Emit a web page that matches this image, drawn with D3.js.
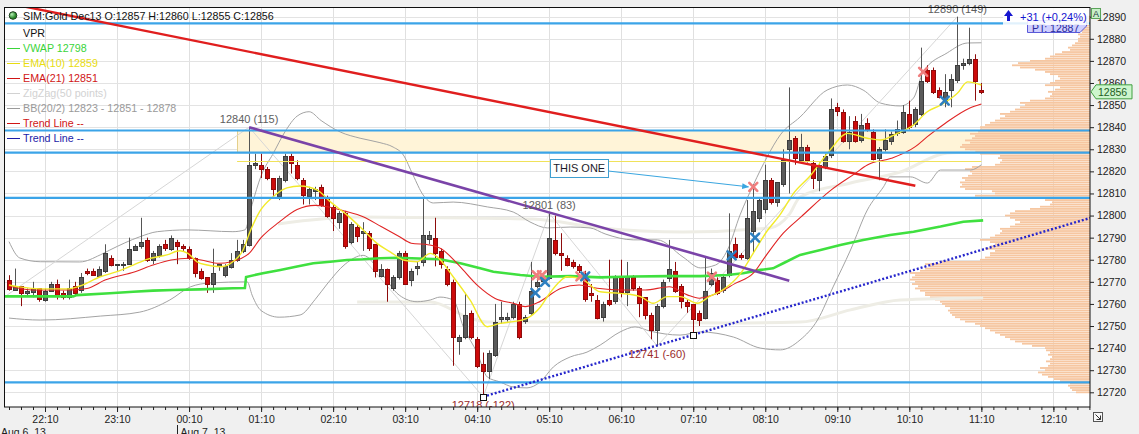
<!DOCTYPE html>
<html>
<head>
<meta charset="utf-8">
<script src="https://cdn.jsdelivr.net/npm/d3@7"></script>
<style>
body { margin: 0; background: #f0f0f0; }
svg { font-family: "Liberation Sans", Arial, sans-serif; display: block; }
</style>
</head>
<body>
<svg id="chart" width="1139" height="434"></svg>
<script>
// ---- DATA (5 minute bars, first bar 21:40) ----
var barStart = new Date(2013, 7, 6, 21, 40);
var barMinutes = 5;

var opens = [12771,12766,12768,12765,12765,12767,12762,12766,12769,12765,
  12763,12768,12766,12775,12775,12773,12775,12781,12778,12778,
  12778,12784,12786,12789,12780,12782,12787,12785,12788,12786,
  12785,12781,12775,12772,12769,12777,12773,12777,12780,12784,
  12787,12823,12823,12821,12817,12809,12816,12827,12823,12816,
  12809,12811,12813,12808,12804,12797,12801,12788,12795,12792,
  12792,12787,12773,12776,12767,12772,12783,12771,12776,12779,
  12789,12790,12784,12776,12770,12743,12745,12756,12744,12733,
  12730,12737,12753,12753,12754,12760,12752,12756,12768,12770,
  12772,12789,12783,12781,12779,12777,12773,12765,12762,12754,
  12762,12761,12772,12765,12772,12767,12763,12755,12748,12759,
  12772,12775,12768,12761,12760,12756,12754,12769,12771,12766,
  12773,12787,12782,12781,12793,12799,12803,12816,12806,12814,
  12830,12835,12825,12831,12824,12816,12822,12827,12849,12847,
  12834,12843,12834,12842,12838,12826,12830,12834,12837,12838,
  12846,12841,12846,12866,12866,12857,12852,12857,12861,12868,
  12869,12871,12857];
var highs = [12773,12776,12768,12767,12770,12767,12767,12770,12771,12766,
  12771,12770,12774,12776,12776,12777,12787,12782,12778,12779,
  12790,12787,12799,12790,12784,12787,12789,12791,12789,12787,
  12786,12781,12776,12772,12785,12778,12778,12783,12789,12789,
  12840,12828,12828,12822,12817,12818,12828,12828,12825,12817,
  12813,12813,12814,12809,12805,12802,12802,12797,12796,12797,
  12793,12787,12778,12776,12773,12784,12784,12776,12779,12808,
  12793,12799,12785,12777,12771,12746,12765,12757,12745,12738,
  12739,12760,12761,12756,12761,12761,12755,12779,12772,12774,
  12801,12800,12792,12782,12780,12778,12775,12769,12764,12761,
  12780,12773,12780,12779,12773,12768,12763,12756,12760,12771,
  12789,12779,12769,12762,12760,12757,12781,12776,12772,12773,
  12801,12790,12783,12807,12814,12808,12823,12817,12815,12830,
  12858,12836,12837,12832,12825,12824,12828,12853,12851,12848,
  12845,12845,12846,12844,12839,12831,12839,12838,12843,12850,
  12852,12849,12876,12868,12867,12858,12864,12864,12890,12871,
  12885,12873,12860];
var lows = [12766,12766,12759,12764,12763,12761,12761,12766,12762,12762,
  12762,12764,12765,12773,12773,12773,12774,12777,12775,12775,
  12778,12784,12785,12779,12778,12781,12784,12784,12778,12784,
  12780,12772,12771,12765,12765,12775,12772,12776,12779,12783,
  12786,12821,12817,12816,12808,12807,12815,12819,12816,12805,
  12805,12807,12804,12799,12793,12794,12785,12787,12788,12784,
  12784,12772,12772,12761,12766,12771,12769,12768,12773,12777,
  12787,12777,12776,12768,12732,12737,12744,12744,12731,12718,
  12726,12736,12751,12752,12753,12744,12751,12755,12767,12769,
  12771,12782,12775,12777,12776,12774,12761,12761,12753,12752,
  12759,12760,12763,12759,12766,12754,12753,12744,12741,12758,
  12770,12765,12758,12756,12747,12750,12753,12768,12764,12765,
  12772,12780,12780,12780,12783,12797,12801,12805,12804,12813,
  12810,12823,12824,12824,12812,12811,12821,12826,12845,12833,
  12830,12833,12833,12838,12825,12816,12829,12832,12836,12837,
  12839,12840,12845,12860,12855,12853,12849,12849,12860,12866,
  12868,12852,12855];
var closes = [12767,12768,12765,12766,12767,12762,12766,12769,12764,12763,
  12767,12765,12772,12774,12773,12776,12783,12778,12778,12778,
  12785,12786,12788,12780,12783,12786,12785,12790,12786,12785,
  12781,12774,12772,12769,12774,12778,12777,12780,12784,12787,
  12823,12824,12821,12817,12812,12817,12827,12824,12817,12809,
  12812,12812,12805,12800,12799,12801,12786,12796,12791,12793,
  12785,12775,12776,12769,12772,12783,12769,12775,12777,12791,
  12791,12783,12778,12769,12745,12745,12755,12745,12732,12730,
  12738,12752,12754,12754,12760,12745,12754,12766,12770,12772,
  12790,12783,12782,12778,12777,12775,12762,12764,12754,12760,
  12760,12772,12765,12772,12767,12760,12755,12748,12759,12770,
  12776,12766,12761,12759,12753,12753,12766,12774,12765,12772,
  12784,12781,12781,12799,12802,12807,12816,12806,12815,12825,
  12834,12826,12831,12825,12817,12823,12827,12848,12847,12834,
  12838,12834,12841,12839,12826,12830,12834,12837,12839,12847,
  12840,12848,12861,12861,12856,12854,12856,12862,12868,12869,
  12871,12861,12856];

var priceTicks = d3.range(12720, 12891, 10);

// volume profile, one value per price point from vprLow upward
var vprLow = 12720;
var vprVolume = [14,18,20,22,20, 30,36,42,48,52, 45,50,42,40,44, 40,38,42,40,44,
  45,58,68,75,80, 85,90,95,100,105, 110,115,125,130,135, 138,140,142,140,145,
  148,150,155,160,165, 165,170,175,172,178, 175,180,178,175,180, 170,165,160,165,150,
  110,105,100,100,95, 105,100,95,100,110, 100,95,90,88,90, 80,75,70,75,80,
  85,80,75,60,50, 40,38,45,100,115, 95,98,125,130,128, 130,125,128,122,118,
  120,125,118,95,90, 88,92,90,110,120, 125,130,128,120,125, 118,115,120,112,110,
  110,105,100,95,90, 85,90,80,75,70, 65,70,60,45,40, 38,42,35,30,45,
  40,35,30,32,40, 45,55,70,78,72, 60,45,40,35,28, 20,22,18,15,12,
  12,10,12,8,10, 8,6,8,5,4, 3];

// indicator readings: [bar, price]
var ema10 = [[0,12768.6],[1.8,12767.7],[5.2,12766.8],[9.7,12766.8],[11.8,12768.1],[15.2,12772.3],[18,12774.6],
  [20.7,12777.6],[23,12780.2],[26.3,12782.2],[28.5,12784.1],[29.8,12782.9],[31.3,12779.1],[33,12777.6],
  [35.2,12776.8],[37.3,12779.1],[39,12784.4],[40.2,12793],[41.8,12802],[44,12808.5],[46.3,12812.5],
  [48.5,12813.4],[51.3,12811.6],[53.5,12806.3],[56.3,12800.3],[59,12793.5],[61.3,12787.4],[63.5,12783.6],
  [65.7,12779.9],[68,12779.1],[70.2,12782.9],[71.3,12781.4],[74,12772.3],[76.8,12761.8],[79.7,12749.7],
  [81.8,12751.2],[84,12752.0],[86.3,12753.5],[88.5,12758.5],[90,12764.5],[91.5,12769.5],[93,12772.3],
  [95.7,12770.8],[98.5,12765.5],[101.8,12764.8],[105.2,12763.3],[107.3,12760.3],[109.7,12763.3],
  [111.8,12763.3],[114.7,12760.3],[116.8,12763.5],[119,12766.5],[121.8,12773.5],[124,12783],
  [126.3,12793],[128.5,12800.5],[130.7,12810],[133.5,12818],[136.8,12829.7],[139.7,12837.2],[143,12835.0],
  [145.2,12834.2],[148,12837.2],[150.7,12841.0],[153,12847.0],[155.2,12850.0],[158,12855.3],[159.7,12860.5],[162,12859.1]];
var ema21 = [[0,12768.1],[4,12766.3],[10,12766.3],[13,12767.0],[16,12770.8],[21,12774.6],[24,12777.6],[27,12779.9],
  [30,12780.7],[32,12779.9],[35,12778.4],[37,12779.1],[40,12782.9],[42,12790],[45,12797],[48,12802.7],
  [51,12804.6],[53,12804],[56,12802],[59,12799.5],[62,12795.0],[65,12790.5],[67,12787.5],[70,12786.7],
  [72,12785],[75,12777.3],[78,12768.5],[81,12762.5],[84,12760.3],[86,12758.8],[88,12760.5],[92,12767.1],
  [95,12768.6],[98,12767.1],[102,12766.3],[106,12766.3],[110,12767.8],[113,12764.1],[115,12762.6],
  [118,12764.8],[121,12769.3],[124,12773.9],[126,12781.4],[129,12792.0],[132,12799.5],[137,12811.6],
  [141,12819.1],[143,12822.9],[147,12825.9],[151,12831.2],[153,12835.7],[156,12841.8],[160,12848.6],[162,12850.5]];
var bbUpper = [[0,12788.2],[1.8,12780.8],[5.2,12779.1],[11.8,12779.0],[15.2,12782.2],[16.8,12784.4],[21.8,12790.4],
  [24.7,12792.7],[29.7,12793.5],[37.3,12792.7],[39.3,12793.5],[40.5,12805],[42,12818],[44,12828],[46,12838],
  [48,12845],[50,12847],[52,12843],[55.2,12837.8],[58.5,12835],[61.8,12833],[64,12831],[65.7,12827.4],
  [67.3,12818.4],[69,12809.3],[70.7,12805.7],[74,12806.1],[79.7,12803.9],[84,12801.6],[86.8,12797.1],
  [89.7,12794.4],[93.5,12794.8],[96.8,12794.4],[99.3,12791.7],[104,12789.0],[108,12789.0],[112.3,12781.2],
  [115.2,12776.3],[117.7,12777.6],[119.7,12784.4],[121.8,12800.3],[124,12813.8],[126.3,12826.5],
  [128.5,12836.5],[131.8,12844.6],[136.3,12856.8],[139.7,12859.1],[142.3,12856.8],[145.2,12850.9],
  [148.5,12849.6],[150.7,12853.2],[152.3,12865.0],[156.3,12873.6],[159.7,12878.1],[162,12878.2]];
var bbLower = [[0,12753.6],[5.2,12752.7],[15.2,12754.5],[21.8,12756.3],[26.8,12761.8],[30.2,12767.7],[33.5,12769.5],
  [39.7,12770],[40.5,12764],[42,12757],[45,12754],[48.5,12755],[51,12762],[53,12769],[56,12778],[59,12782],
  [62,12774],[65,12764],[68,12761],[70.2,12761.8],[71.8,12763.1],[74,12761.8],[75.7,12749.6],[78,12737.8],
  [79.7,12726.9],[81.8,12724.7],[84,12722.4],[86.3,12722.0],[88.5,12724.7],[90.7,12731.5],[93.5,12736.0],
  [96.3,12738.2],[98.5,12741.4],[101.8,12747.3],[104.3,12749.6],[106.8,12747.7],[111.8,12745.9],
  [115.2,12747.3],[120.7,12745.0],[125.2,12740.0],[128.5,12739.2],[131.8,12743.7],[134.7,12752.7],
  [137.3,12767.7],[140.2,12784.4],[143,12802.5],[145.7,12813],[146.8,12817.5],[150.2,12817.5],
  [153,12814.7],[155.2,12820.6],[160.2,12820.6],[162,12823.0]];
var vwap = [[-0.75,12763.4],[10.7,12763.4],[11.3,12764.0],[16.8,12764.8],[20.7,12765.5],[24,12766.0],[27.3,12766.3],
  [31.8,12766.6],[37.3,12767.1],[39.3,12767.2],[39.5,12772.2],[42.3,12773.9],[45.2,12775.4],[48,12776.9],
  [50.7,12778.4],[53.5,12779.1],[56.3,12779.9],[59,12780.2],[61.8,12780.7],[64.7,12780.9],[71.8,12780.2],
  [75.2,12778.4],[78.5,12776.1],[80.7,12774.6],[85.2,12773.1],[88.5,12772.3],[93.5,12772.6],[98.5,12772.0],
  [104,12772.4],[109.7,12772.6],[115.2,12772.6],[119.7,12773.1],[122.3,12773.9],[125.2,12775.4],
  [127.3,12776.1],[129,12778.4],[131.8,12782.2],[135.2,12784.4],[138.5,12786.7],[142.3,12788.9],
  [146.8,12791.2],[150.7,12792.7],[155.2,12795.0],[159,12797.2],[162.3,12797.8]];
var vwapUpperBand = [[44.8,12796.2],[58,12799.3],[76.8,12798.9],[87.3,12798.4],[98.5,12794.4],[112.3,12792.6],
  [126.8,12794.4],[130,12800.5],[131.8,12808.4],[140.2,12814.7],[148.5,12819.7],[156.3,12828.3],[161,12828.8]];
var vwapLowerBand = [[58,12760.9],[70.2,12760.9],[76.8,12753.6],[79.7,12751.8],[101.8,12751.8],[119.7,12751.4],
  [131.8,12751.8],[140.2,12757.3],[148.5,12761.8],[162.3,12762.7]];

var zigzag = [[-21,12725],[40,12840],[79,12718],[90,12801],[108,12741],[158,12890]];
var zigzagLabels = [
  {bar: 40, price: 12840, text: "12840 (115)", high: true},
  {bar: 90, price: 12801, text: "12801 (83)", high: true},
  {bar: 158, price: 12890, text: "12890 (149)", high: true},
  {bar: 79, price: 12718, text: "12718 (-122)", high: false},
  {bar: 108, price: 12741, text: "12741 (-60)", high: false}];

var levels = [12887, 12838.5, 12828.5, 12808, 12724.5];
var zone = {fromBar: 38, top: 12838.5, bottom: 12828.5};
var yellowRay = {fromBar: 38, toBar: 162, price: 12824.6};
var redTrend = [[0, 12896], [151, 12813.5]];
var purpleTrend = [[40, 12840], [130, 12770.5]];
var blueTrend = [[79, 12718], [114, 12746]];
var sellMarks = [[87.9,12773],[88.8,12773],[95.2,12772.5],[117.1,12772.3],[124,12813],[152.3,12865]];
var buyMarks = [[87.7,12765],[89.3,12770],[96,12772.5],[120.4,12782],[124.3,12790],[155.9,12852]];
var note = {text: "THIS ONE", bar: 95, price: 12821.5, tipBar: 123.2, tipPrice: 12813};

var legendRows = [
  {text: "VPR", color: "#111", line: false},
  {text: "VWAP  12798", color: "#3ad43a", line: true},
  {text: "EMA(10)  12859", color: "#e8dc10", line: true},
  {text: "EMA(21)  12851", color: "#d01515", line: true},
  {text: "ZigZag(50 points)", color: "#d2d2d2", line: true},
  {text: "BB(20/2) 12823 - 12851 - 12878", color: "#9a9a9a", line: true},
  {text: "Trend Line  --", color: "#d01515", line: true},
  {text: "Trend Line  --", color: "#1c1ca8", line: true}];

// ---- SCALES ----
var W = 1139, H = 434;
var plot = {left: 4.5, top: 7.5, right: 1090, bottom: 407};
var barTime = function(i) { return new Date(barStart.getTime() + i * barMinutes * 60000); };
var x = d3.scaleTime().domain([barTime(-0.75), barTime(180.1)]).range([plot.left, plot.right]);
var y = d3.scaleLinear().domain([12713.35, 12894.39]).range([407, 7]);
var bx = function(i) { return x(barTime(i)); };
var crisp = function(v) { return Math.round(v) + 0.5; };

var svg = d3.select("#chart");
svg.append("rect").attr("width", W).attr("height", H).attr("fill", "#f0f0f0");
svg.append("rect").attr("x", plot.left).attr("y", plot.top)
  .attr("width", plot.right - plot.left).attr("height", plot.bottom - plot.top).attr("fill", "#fff");

var defs = svg.append("defs");
defs.append("clipPath").attr("id", "plotclip").append("rect")
  .attr("x", plot.left).attr("y", plot.top).attr("width", plot.right - plot.left).attr("height", plot.bottom - plot.top);
defs.append("clipPath").attr("id", "labelclip").append("rect")
  .attr("x", 0).attr("y", 0).attr("width", plot.right).attr("height", plot.bottom);
var ball = defs.append("radialGradient").attr("id", "ball").attr("cx", "35%").attr("cy", "35%");
ball.append("stop").attr("offset", "0%").attr("stop-color", "#b8f0b8");
ball.append("stop").attr("offset", "100%").attr("stop-color", "#2a8a2a");
defs.append("marker").attr("id", "arrow").attr("viewBox", "0 0 10 10").attr("refX", 9).attr("refY", 5)
  .attr("markerWidth", 7).attr("markerHeight", 7).attr("orient", "auto")
  .append("path").attr("d", "M0,1L10,5L0,9z").attr("fill", "#3aa6e0");

var g = svg.append("g").attr("clip-path", "url(#plotclip)");

// grid
var tenMin = d3.timeMinute.every(10).range(x.domain()[0], x.domain()[1]);
var hourTicks = tenMin.filter(function(d) { return d.getMinutes() === 10; });
g.append("g").selectAll("line").data(hourTicks).join("line")
  .attr("x1", function(d) { return crisp(x(d)); }).attr("x2", function(d) { return crisp(x(d)); })
  .attr("y1", plot.top).attr("y2", plot.bottom).attr("stroke", "#e0e0e0");
g.append("g").selectAll("line").data(priceTicks).join("line")
  .attr("x1", plot.left).attr("x2", plot.right)
  .attr("y1", function(d) { return crisp(y(d)); }).attr("y2", function(d) { return crisp(y(d)); })
  .attr("stroke", "#e3e3e3");

// zone
g.append("rect").attr("x", crisp(bx(zone.fromBar))).attr("y", y(zone.top))
  .attr("width", plot.right - bx(zone.fromBar) + 5).attr("height", y(zone.bottom) - y(zone.top))
  .attr("fill", "#fff4d8").attr("stroke", "#e4d08c");

// volume profile
var vol = d3.scaleLinear().domain([0, 180]).range([0, 180]);
g.append("g").selectAll("rect").data(vprVolume).join("rect")
  .attr("x", function(d) { return plot.right - vol(d); }).attr("width", function(d) { return vol(d); })
  .attr("y", function(d, k) { return y(vprLow + k) - 0.9; }).attr("height", 1.8)
  .attr("fill", "#f6c6a0");

var smooth = d3.line().x(function(d) { return bx(d[0]); }).y(function(d) { return y(d[1]); }).curve(d3.curveMonotoneX);
var straight = d3.line().x(function(d) { return bx(d[0]); }).y(function(d) { return y(d[1]); });

function path(data, gen, color, width, extra) {
  var p = g.append("path").attr("d", gen(data)).attr("fill", "none")
    .attr("stroke", color).attr("stroke-width", width);
  if (extra) extra(p);
  return p;
}

path(vwapUpperBand, smooth, "#eeede5", 3);
path(vwapLowerBand, smooth, "#eeede5", 3);
path(bbUpper, smooth, "#a3a3a3", 1);
path(bbLower, smooth, "#a3a3a3", 1);
path(zigzag, straight, "#d6d6d6", 1);

// candles
var bars = opens.map(function(o, i) {
  return {i: i, o: o, h: highs[i], l: lows[i], c: closes[i], up: closes[i] >= o};
});
var cg = g.append("g");
cg.selectAll("line").data(bars).join("line")
  .attr("x1", function(d) { return crisp(bx(d.i)); }).attr("x2", function(d) { return crisp(bx(d.i)); })
  .attr("y1", function(d) { return y(d.h); }).attr("y2", function(d) { return y(d.l); })
  .attr("stroke", function(d) { return d.up ? "#555" : "#8e0c0c"; });
cg.selectAll("rect").data(bars).join("rect")
  .attr("x", function(d) { return crisp(bx(d.i)) - 2; }).attr("width", 4)
  .attr("y", function(d) { return Math.round(y(Math.max(d.o, d.c))) + 0.5; })
  .attr("height", function(d) { return Math.max(1, Math.round(y(Math.min(d.o, d.c)) - y(Math.max(d.o, d.c)))); })
  .attr("fill", function(d) { return d.up ? "#5a5a5a" : "#cc0a0a"; })
  .attr("stroke", function(d) { return d.up ? "#3c3c3c" : "#8e0c0c"; });

path(vwap, straight, "#3fe03f", 2.6);
path(ema21, smooth, "#e02424", 1.1);
path(ema10, smooth, "#f2ea2a", 1.4);

// yellow ray
g.append("line").attr("x1", bx(yellowRay.fromBar)).attr("x2", bx(yellowRay.toBar))
  .attr("y1", crisp(y(yellowRay.price))).attr("y2", crisp(y(yellowRay.price)))
  .attr("stroke", "#f0e25a").attr("stroke-width", 1);

// horizontal levels
g.append("g").selectAll("line").data(levels).join("line")
  .attr("x1", plot.left).attr("x2", plot.right)
  .attr("y1", function(d) { return y(d); }).attr("y2", function(d) { return y(d); })
  .attr("stroke", "#3ba4e8").attr("stroke-width", 2.2);

// trend lines
path(redTrend, straight, "#e01e1e", 2.4);
path(purpleTrend, straight, "#7a43a8", 2.6);
var slope = (blueTrend[1][1] - blueTrend[0][1]) / (blueTrend[1][0] - blueTrend[0][0]);
var endBar = 181;
path([blueTrend[0], [endBar, blueTrend[0][1] + slope * (endBar - blueTrend[0][0])]], straight, "#2626cc", 2.4,
  function(p) { p.attr("stroke-dasharray", "2,2"); });
g.append("g").selectAll("rect").data(blueTrend).join("rect")
  .attr("x", function(d) { return crisp(bx(d[0])) - 3; }).attr("y", function(d) { return crisp(y(d[1])) - 3; })
  .attr("width", 6).attr("height", 6).attr("fill", "#fff").attr("stroke", "#111");

// markers
function crosses(data, color) {
  g.append("g").selectAll("path").data(data).join("path")
    .attr("transform", function(d) { return "translate(" + bx(d[0]) + "," + y(d[1]) + ")"; })
    .attr("d", "M-4,-4L4,4M-4,4L4,-4").attr("stroke", color).attr("stroke-width", 2.6)
    .attr("stroke-linecap", "round").attr("fill", "none");
}
crosses(sellMarks, "#f07e7e");
crosses(buyMarks, "#2d7fc0");

// annotation
var nx = bx(note.bar), ny = y(note.price);
var ng = svg.append("g");
var nt = ng.append("text").attr("x", nx).attr("y", ny + 4).attr("text-anchor", "middle")
  .attr("font-size", 11).attr("fill", "#1a1a2a").text(note.text);
var bb = nt.node().getBBox();
ng.insert("rect", "text").attr("x", Math.round(bb.x - 3) + 0.5).attr("y", Math.round(ny - 9) + 0.5)
  .attr("width", Math.round(bb.width + 6)).attr("height", 18).attr("fill", "#fff").attr("stroke", "#3f9fd0");
ng.append("line").attr("x1", Math.round(bb.x + bb.width + 3) + 0.5).attr("y1", ny + 3)
  .attr("x2", bx(note.tipBar)).attr("y2", y(note.tipPrice))
  .attr("stroke", "#3aa6e0").attr("stroke-width", 1).attr("marker-end", "url(#arrow)");

// zigzag labels
svg.append("g").attr("clip-path", "url(#labelclip)").selectAll("text").data(zigzagLabels).join("text")
  .attr("x", function(d) { return bx(d.bar); })
  .attr("y", function(d) { return d.high ? y(d.price) - 4 : y(d.price) + 12; })
  .attr("text-anchor", "middle").attr("font-size", 11)
  .attr("fill", function(d) { return d.high ? "#5e5e5e" : "#9a2c2c"; })
  .text(function(d) { return d.text; });

// border
svg.append("rect").attr("x", plot.left).attr("y", plot.top)
  .attr("width", plot.right - plot.left).attr("height", plot.bottom - plot.top)
  .attr("fill", "none").attr("stroke", "#111");

// axes
var minorAxis = svg.append("g").attr("transform", "translate(0," + plot.bottom + ")")
  .call(d3.axisBottom(x).tickValues(tenMin).tickSize(3).tickFormat(""));
minorAxis.select(".domain").remove();
var timeAxis = svg.append("g").attr("transform", "translate(0," + plot.bottom + ")")
  .call(d3.axisBottom(x).tickValues(hourTicks).tickSize(5).tickPadding(4).tickFormat(d3.timeFormat("%H:%M")));
timeAxis.select(".domain").remove();
timeAxis.selectAll("text").attr("font-size", 10.5).attr("fill", "#222").attr("font-family", null);
svg.selectAll(".tick line").attr("stroke", "#222");

var dates = [{d: barStart, text: "Aug 6, 13", mark: false}, {d: new Date(2013, 7, 7, 0, 0), text: "Aug 7, 13", mark: true}];
dates.forEach(function(dd) {
  var px = dd.mark ? crisp(x(dd.d)) : 1;
  if (dd.mark) svg.append("line").attr("x1", px).attr("x2", px).attr("y1", 425).attr("y2", 434).attr("stroke", "#222");
  svg.append("text").attr("x", dd.mark ? px + 3 : 1).attr("y", 436).attr("font-size", 10.5).attr("fill", "#222").text(dd.text);
});

var priceAxis = svg.append("g").attr("transform", "translate(" + plot.right + ",0)")
  .call(d3.axisRight(y).tickValues(priceTicks).tickSize(4).tickPadding(3).tickFormat(d3.format("d")));
priceAxis.select(".domain").remove();
priceAxis.selectAll("text").attr("font-size", 10.5).attr("fill", "#222").attr("font-family", null);
priceAxis.selectAll("line").attr("stroke", "#222");

// last price tag
var last = closes[closes.length - 1], ly = y(last);
svg.append("path").attr("d", "M" + (plot.right + 1) + "," + ly + "L" + (plot.right + 6) + "," + (ly - 7) +
  "L" + 1132 + "," + (ly - 7) + "L" + 1132 + "," + (ly + 7) + "L" + (plot.right + 6) + "," + (ly + 7) + "Z")
  .attr("fill", "#cdf5cd").attr("stroke", "#3f9f3f");
svg.append("text").attr("x", plot.right + 8).attr("y", ly + 4).attr("font-size", 10.5).attr("fill", "#1e5e1e").text(last);

// "A" box
svg.append("rect").attr("x", 1091.5).attr("y", 8.5).attr("width", 9).attr("height", 10).attr("fill", "#c8efc8").attr("stroke", "#5aa35a");
svg.append("text").attr("x", 1096).attr("y", 17).attr("text-anchor", "middle").attr("font-size", 9).attr("fill", "#234").text("A");

// corner icon
svg.append("rect").attr("x", 1093.5).attr("y", 412.5).attr("width", 9).attr("height", 9).attr("fill", "#f8f8f8").attr("stroke", "#555");
svg.append("path").attr("d", "M1095.5,414.5L1100.5,419.5M1100.5,415.5L1100.5,419.5L1096.5,419.5").attr("stroke", "#333").attr("fill", "none");

// PT tag and change readout
svg.append("path").attr("d", "M1027.5,20.5L1086.5,20.5L1086.5,26L1080,32.5L1027.5,32.5Z").attr("fill", "#cfcfff").attr("stroke", "#5a5ad8");
svg.append("text").attr("x", 1032).attr("y", 31.5).attr("font-size", 10.5).attr("fill", "#2a2a9a").text("PT: 12887");
svg.append("rect").attr("x", 1003).attr("y", 8).attr("width", 86).attr("height", 17).attr("fill", "#fff").attr("opacity", 0.85);
svg.append("path").attr("d", "M1004,16L1008.5,10L1013,16L1010,16L1010,21L1007,21L1007,16Z").attr("fill", "#1616d0");
svg.append("text").attr("x", 1020).attr("y", 21).attr("font-size", 11).attr("fill", "#1616d0").text("+31 (+0,24%)");

// legend
var lg = svg.append("g").attr("font-size", 10.7);
lg.append("circle").attr("cx", 13).attr("cy", 15.5).attr("r", 3.8).attr("fill", "url(#ball)").attr("stroke", "#1d3d1d");
var lb = bars[bars.length - 1];
lg.append("text").attr("x", 23).attr("y", 20).attr("fill", "#111")
  .text("SIM:Gold Dec13 O:" + lb.o + " H:" + lb.h + " L:" + lb.l + " C:" + lb.c);
legendRows.forEach(function(r, k) {
  var cy = 32.7 + k * 15;
  if (r.line) lg.append("line").attr("x1", 7).attr("x2", 20).attr("y1", Math.round(cy) + 0.5).attr("y2", Math.round(cy) + 0.5).attr("stroke", r.color);
  lg.append("text").attr("x", 23).attr("y", cy + 4).attr("fill", r.color).text(r.text);
});
</script>
</body>
</html>
